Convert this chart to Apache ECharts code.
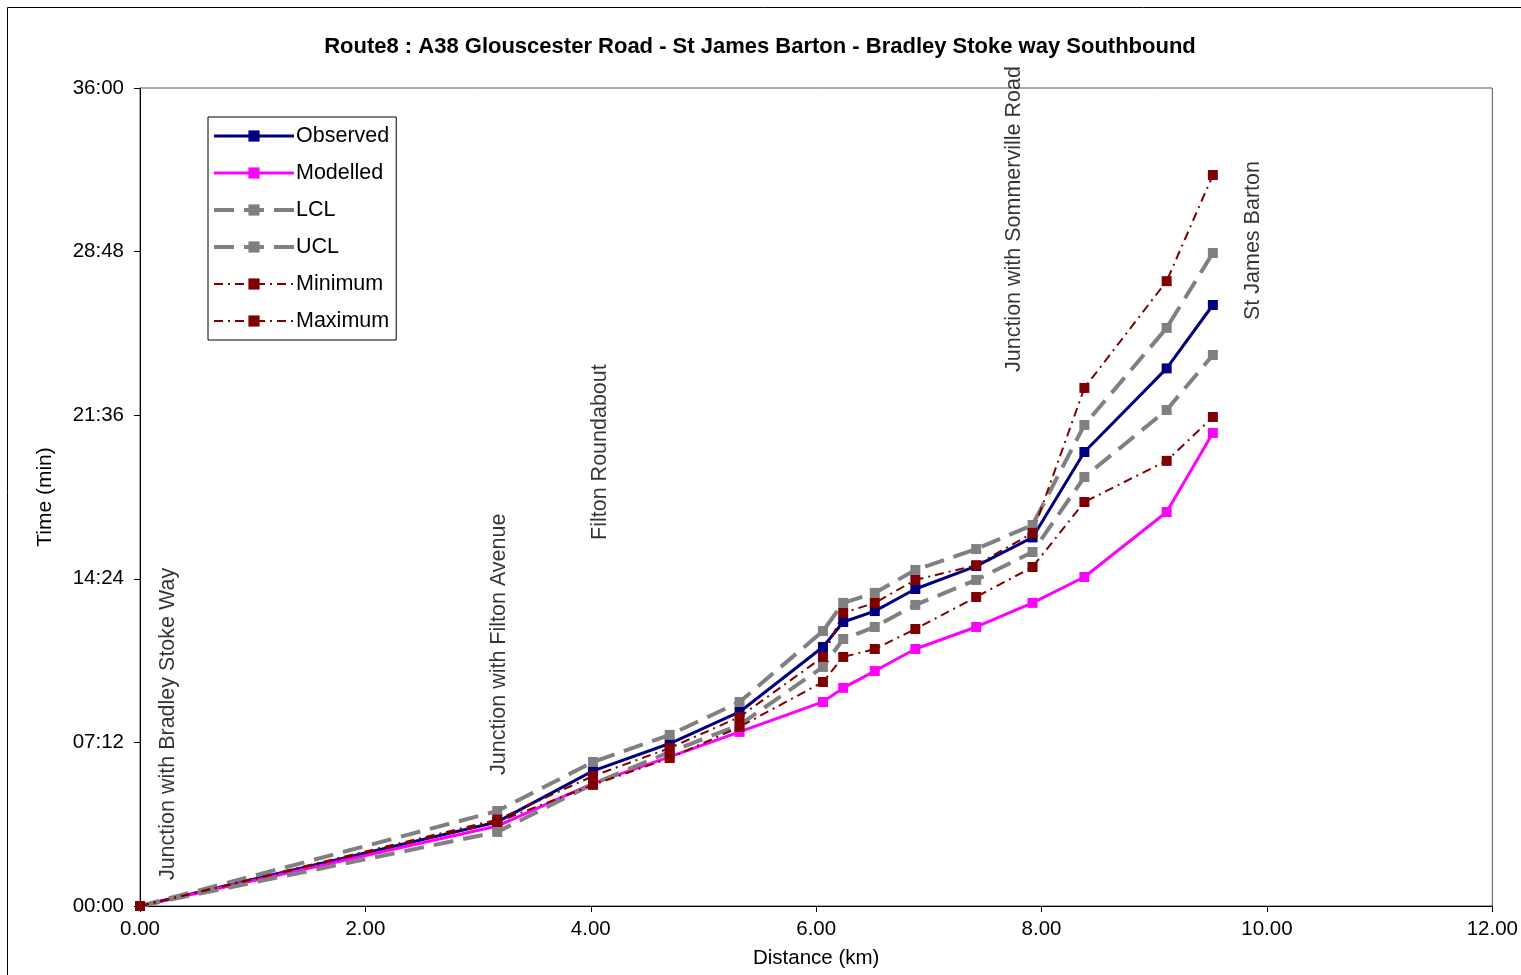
<!DOCTYPE html>
<html>
<head>
<meta charset="utf-8">
<script src="https://cdn.jsdelivr.net/npm/echarts@6/dist/echarts.min.js"></script>
<style>
html,body{margin:0;padding:0;background:#fff;}
#chart{width:1521px;height:975px;}
</style>
</head>
<body>
<div id="chart"></div>
<script>
// Distance along route (km)
var distance = [0, 3.17, 4.02, 4.70, 5.32, 6.06, 6.24, 6.52, 6.88, 7.42, 7.92, 8.38, 9.11, 9.52];
// Journey time (minutes)
var observed = [0, 3.70, 5.95, 7.15, 8.54, 11.40, 12.50, 12.98, 13.95, 14.96, 16.22, 19.98, 23.66, 26.45];
var modelled = [0, 3.52, 5.40, 6.56, 7.66, 8.98, 9.60, 10.34, 11.31, 12.28, 13.34, 14.48, 17.34, 20.82];
var lcl = [0, 3.26, 5.37, 6.78, 7.97, 10.52, 11.75, 12.28, 13.25, 14.35, 15.58, 18.88, 21.83, 24.25];
var ucl = [0, 4.18, 6.34, 7.53, 8.98, 12.10, 13.34, 13.78, 14.79, 15.71, 16.77, 21.17, 25.44, 28.74];
var minimum = [0, 3.70, 5.33, 6.51, 7.88, 9.86, 10.96, 11.31, 12.19, 13.60, 14.92, 17.78, 19.59, 21.52];
var maximum = [0, 3.80, 5.72, 6.95, 8.32, 10.96, 12.90, 13.34, 14.35, 15.00, 16.42, 22.80, 27.50, 32.17];

// Location annotations: [distance km, time min at text start, label]
var annoNames = ["Junction with Bradley Stoke Way", "Junction with Filton Avenue", "Filton Roundabout", "Junction with Sommerville Road", "St James Barton"];
var annoX = [0.25, 3.19, 4.08, 7.76, 9.88];
var annoY = [1.14, 5.77, 16.11, 23.5, 25.79];

var titleText = "Route8 : A38 Glouscester Road - St James Barton - Bradley Stoke way Southbound";

function pairs(ys) { return distance.map(function (d, i) { return [d, ys[i]]; }); }
function fmtTime(v) {
  var s = Math.round(v * 60);
  var m = Math.floor(s / 60), sec = s % 60;
  return (m < 10 ? '0' : '') + m + ':' + (sec < 10 ? '0' : '') + sec;
}

var FONT = 'Liberation Sans, Arial, sans-serif';
var chart = echarts.init(document.getElementById('chart'), null, {renderer: 'canvas'});

function lineSeries(name, ys, color, width, type) {
  return {
    name: name, type: 'line', data: pairs(ys),
    symbol: 'rect', symbolSize: 10,
    itemStyle: {color: color},
    lineStyle: {color: color, width: width, type: type},
    z: 3
  };
}

var dashGray = [20, 10];
var dashDot = [9, 5, 2, 5];

chart.setOption({
  animation: false,
  backgroundColor: '#fff',
  textStyle: {fontFamily: FONT},
  title: {
    text: titleText, left: 755, top: 31, textAlign: 'center',
    textStyle: {fontFamily: FONT, fontSize: 22, fontWeight: 'bold', color: '#000'}
  },
  graphic: [{
    type: 'rect', left: 5, top: 5, shape: {width: 1530, height: 990},
    style: {fill: null, stroke: '#000', lineWidth: 1}, silent: true
  }],
  grid: {
    left: 140, right: 22, top: 88, bottom: 69,
    show: true, borderColor: '#555', borderWidth: 1, backgroundColor: 'transparent'
  },
  legend: {
    orient: 'vertical', left: 208, top: 117,
    padding: [8, 7, 8, 4],
    backgroundColor: '#fff', borderColor: '#000', borderWidth: 1,
    itemWidth: 80, itemHeight: 14, itemGap: 15,
    lineStyle: {width: 'inherit', type: 'inherit'},
    textStyle: {fontFamily: FONT, fontSize: 21.5, color: '#000', lineHeight: 22, padding: [0, 0, 0, -3]},
    data: ['Observed', 'Modelled', 'LCL', 'UCL', 'Minimum', 'Maximum']
  },
  xAxis: {
    type: 'value', min: 0, max: 12, interval: 2,
    name: 'Distance (km)', nameLocation: 'middle', nameGap: 42,
    nameTextStyle: {fontFamily: FONT, fontSize: 20.5, color: '#000'},
    axisLine: {show: true, lineStyle: {color: '#000', width: 1}},
    axisTick: {show: true, length: 6, lineStyle: {color: '#000'}},
    axisLabel: {fontFamily: FONT, fontSize: 20.5, color: '#000', margin: 13, formatter: function (v) { return v.toFixed(2); }},
    splitLine: {show: false}
  },
  yAxis: {
    type: 'value', min: 0, max: 36, interval: 7.2,
    name: 'Time (min)', nameLocation: 'middle', nameGap: 84, nameRotate: 90,
    nameTextStyle: {fontFamily: FONT, fontSize: 21, color: '#000'},
    axisLine: {show: true, lineStyle: {color: '#000', width: 1}},
    axisTick: {show: true, length: 6, lineStyle: {color: '#000'}},
    axisLabel: {fontFamily: FONT, fontSize: 20.5, color: '#000', margin: 16, formatter: fmtTime},
    splitLine: {show: false}
  },
  series: [
    lineSeries('Observed', observed, '#000080', 3, 'solid'),
    lineSeries('Modelled', modelled, '#FF00FF', 3, 'solid'),
    lineSeries('LCL', lcl, '#808080', 4, dashGray),
    lineSeries('UCL', ucl, '#808080', 4, dashGray),
    lineSeries('Minimum', minimum, '#800000', 2, dashDot),
    lineSeries('Maximum', maximum, '#800000', 2, dashDot),
    {
      name: 'annotations', type: 'scatter', silent: true,
      symbolSize: 0, z: 5,
      data: annoNames.map(function (n, i) { return {name: n, value: [annoX[i], annoY[i]]}; }),
      label: {
        show: true, formatter: '{b}', rotate: 90, position: [0, 0],
        align: 'left', verticalAlign: 'middle',
        fontFamily: FONT, fontSize: 21.5, color: '#000'
      }
    }
  ]
});
</script>
</body>
</html>
